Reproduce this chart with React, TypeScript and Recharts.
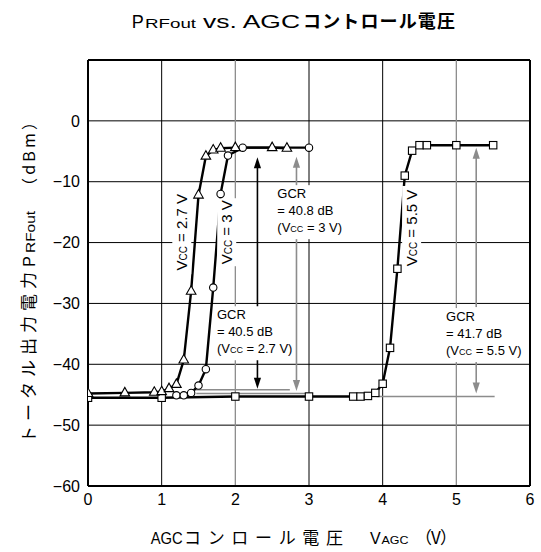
import { ComposedChart, Line, XAxis, YAxis, CartesianGrid, ReferenceLine, ReferenceDot } from "recharts";

// measured curves, VAGC (V) vs PRFout (dBm)
const vagc27 = [0, 0.5, 0.9, 1.0, 1.1, 1.2, 1.3, 1.4, 1.5, 1.6, 1.7, 1.8, 2.0, 2.5, 2.7];
const pout27 = [-44.8, -44.7, -44.6, -44.5, -44.0, -43.3, -39.3, -28.0, -12.2, -5.8, -4.8, -4.5, -4.4, -4.4, -4.5];
const vagc30 = [1.2, 1.3, 1.4, 1.5, 1.6, 1.7, 1.8, 1.9, 2.1, 3.0];
const pout30 = [-45.1, -45.1, -44.7, -43.5, -40.8, -27.4, -12.0, -5.7, -4.4, -4.4];
const vagc55 = [0, 1, 2, 3, 3.6, 3.7, 3.8, 3.9, 4.0, 4.1, 4.2, 4.3, 4.4, 4.5, 4.6, 5.0, 5.5];
const pout55 = [-45.5, -45.5, -45.3, -45.3, -45.3, -45.3, -45.2, -44.7, -43.2, -37.3, -24.3, -9.0, -4.9, -4.0, -4.0, -4.0, -4.0];

const xTicks = [0, 1, 2, 3, 4, 5, 6];
const yTicks = [-60, -50, -40, -30, -20, -10, 0];

// GCR arrows (tail -> tip), in data units
const arrowX = [2.3, 2.3, 2.83, 2.83, 5.27, 5.27];
const arrowFrom = [-33.4, -38.2, -10.9, -18.7, -30.6, -39.4];
const arrowTo = [-6.0, -44.0, -5.9, -44.4, -4.4, -44.8];
const arrowDark = [true, true, false, false, false, false];

// minimum-level lines
const levelY = [-44.2, -44.8, -45.3];
const levelFrom = [1.45, 1.47, 3.92];
const levelTo = [2.74, 3.0, 5.52];

// GCR notes
const noteX = [2.57, 1.75, 4.86];
const noteY = [-12.7, -32.6, -32.9];
const noteGcr = ["40.8", "40.5", "41.7"];
const noteVcc = ["3", "2.7", "5.5"];

// curve labels
const labelX = [1.28, 1.89, 4.4];
const labelY = [-18.3, -18.3, -17.6];
const labelVcc = ["2.7", "3", "5.5"];

const FONT = '"Liberation Sans", Arial, "Noto Sans CJK JP", sans-serif';
const JP = '"Noto Sans CJK JP", sans-serif';
const GRAY = "#8c8c8c";

const rows = (xs: number[], ys: number[]) => xs.map((v, i) => ({ v, p: ys[i] }));
const data27 = rows(vagc27, pout27);
const data30 = rows(vagc30, pout30);
const data55 = rows(vagc55, pout55);

const Tri = (props: any) => {
  const { cx, cy, index } = props;
  if (cx == null || cy == null) return <g key={`t${index}`} />;
  return (
    <polygon key={`t${index}`} points={`${cx},${cy - 5.5} ${cx - 4.8},${cy + 3} ${cx + 4.8},${cy + 3}`}
      fill="#fff" stroke="#000" strokeWidth={1.1} />
  );
};
const Circ = (props: any) => {
  const { cx, cy, index } = props;
  if (cx == null || cy == null) return <g key={`c${index}`} />;
  return <circle key={`c${index}`} cx={cx} cy={cy} r={3.7} fill="#fff" stroke="#000" strokeWidth={1.1} />;
};
const Sq = (props: any) => {
  const { cx, cy, index } = props;
  if (cx == null || cy == null) return <g key={`s${index}`} />;
  return <rect key={`s${index}`} x={cx - 3.7} y={cy - 3.7} width={7.4} height={7.4} fill="#fff" stroke="#000" strokeWidth={1.1} />;
};

const arrowShape = (color: string) => (props: any) => {
  const { x1, y1, x2, y2 } = props;
  const dir = y2 > y1 ? 1 : -1;
  return (
    <g>
      <line x1={x1} y1={y1} x2={x2} y2={y2 - dir * 6} stroke={color} strokeWidth={1.6} />
      <polygon points={`${x2},${y2} ${x2 - 3.6},${y2 - dir * 11} ${x2 + 3.6},${y2 - dir * 11}`} fill={color} />
    </g>
  );
};

const noteShape = (gcr: string, vcc: string) => (props: any) => {
  const { cx, cy } = props;
  const w = vcc.length > 1 ? 80 : 70;
  return (
    <g fontFamily={FONT} fontSize={13} fill="#000">
      <rect x={cx - 2} y={cy - 13} width={w} height={54} fill="#fff" />
      <text x={cx} y={cy}>GCR</text>
      <text x={cx} y={cy + 17}>= {gcr} dB</text>
      <text x={cx} y={cy + 34}>(V<tspan fontSize={9}>CC</tspan> = {vcc} V)</text>
    </g>
  );
};

const vccLabel = (vcc: string) => (props: any) => {
  const { cx, cy } = props;
  const w = vcc.length > 1 ? 84 : 68;
  return (
    <g transform={`rotate(-90, ${cx}, ${cy})`} fontFamily={FONT} fill="#000">
      <rect x={cx - w / 2} y={cy - 10} width={w} height={19} fill="#fff" />
      <text x={cx} y={cy + 5} textAnchor="middle" fontSize={15}>
        V<tspan fontSize={10}>CC</tspan> = {vcc} V
      </text>
    </g>
  );
};

const fmt = (v: number) => String(v).replace("-", "\u2212");
const SG = "spacingAndGlyphs";

export default function App() {
  return (
    <div style={{ position: "relative", width: 541, height: 552, background: "#fff" }}>
      <style>{"body{margin:0}"}</style>
      <ComposedChart width={541} height={552} margin={{ top: 60, right: 11, bottom: 36, left: 0 }}>
        <CartesianGrid stroke="#000" strokeWidth={1} verticalValues={[1, 3, 4]} horizontalValues={[-50, -40, -30, -20, -10, 0]} />
        <XAxis dataKey="v" type="number" domain={[0, 6]} ticks={xTicks} height={30}
          axisLine={{ stroke: "#000", strokeWidth: 2 }} tickLine={false}
          tick={{ fontSize: 16, fill: "#000", fontFamily: FONT }} allowDataOverflow />
        <YAxis type="number" domain={[-60, 10]} ticks={yTicks} width={88}
          axisLine={{ stroke: "#000", strokeWidth: 2 }} tickLine={false} tickFormatter={fmt}
          tick={{ fontSize: 16, fill: "#000", fontFamily: FONT }} allowDataOverflow />
        <ReferenceLine y={10} stroke="#000" strokeWidth={2} />
        <ReferenceLine x={6} stroke="#000" strokeWidth={2} />
        <ReferenceLine x={2} stroke={GRAY} strokeWidth={1.3} />
        <ReferenceLine x={5} stroke={GRAY} strokeWidth={1.3} />
        {levelY.map((y, i) => (
          <ReferenceLine key={`lv${i}`} segment={[{ x: levelFrom[i], y }, { x: levelTo[i], y }]}
            stroke={GRAY} strokeWidth={1.5} />
        ))}
        {arrowX.map((x, i) => (
          <ReferenceLine key={`ar${i}`} segment={[{ x, y: arrowFrom[i] }, { x, y: arrowTo[i] }]}
            shape={arrowShape(arrowDark[i] ? "#000" : GRAY)} />
        ))}
        {noteX.map((x, i) => (
          <ReferenceDot key={`nt${i}`} x={x} y={noteY[i]} r={0} shape={noteShape(noteGcr[i], noteVcc[i])} />
        ))}
        {labelX.map((x, i) => (
          <ReferenceDot key={`lb${i}`} x={x} y={labelY[i]} r={0} shape={vccLabel(labelVcc[i])} />
        ))}
        <Line data={data55} dataKey="p" type="linear" stroke="#000" strokeWidth={2.4} dot={Sq} isAnimationActive={false} />
        <Line data={data30} dataKey="p" type="linear" stroke="#000" strokeWidth={2.4} dot={Circ} isAnimationActive={false} />
        <Line data={data27} dataKey="p" type="linear" stroke="#000" strokeWidth={2.4} dot={Tri} isAnimationActive={false} />
      </ComposedChart>
      <svg width={541} height={552} style={{ position: "absolute", left: 0, top: 0, pointerEvents: "none" }}>
        <g fill="#000">
          <text x={131.7} y={28} fontSize={18} fontFamily={FONT} textLength={12} lengthAdjust={SG}>P</text>
          <text x={145} y={28} fontSize={13} fontFamily={FONT} textLength={51} lengthAdjust={SG}>RFout</text>
          <text x={203} y={28} fontSize={18} fontFamily={FONT} textLength={97} lengthAdjust={SG}>vs. AGC</text>
          <text x={303} y={28} fontSize={18} fontFamily={JP} fontWeight="bold" textLength={152}>コントロール電圧</text>

          <text x={150.7} y={544} fontSize={16} fontFamily={FONT} textLength={32} lengthAdjust={SG}>AGC</text>
          <text x={184} y={544} fontSize={17} fontFamily={JP} textLength={159}>コンロール電圧</text>
          <text x={370} y={544} fontSize={16} fontFamily={FONT}>V</text>
          <text x={381.5} y={544} fontSize={11} fontFamily={FONT} textLength={27} lengthAdjust={SG}>AGC</text>
          <text x={415} y={544} fontSize={17} fontFamily={JP} textLength={42}>（V）</text>

          <g transform="rotate(-90)">
            <text x={-443} y={35} fontSize={17} fontFamily={JP} textLength={171}>トータル出力電力</text>
            <text x={-266.7} y={35} fontSize={16} fontFamily={FONT}>P</text>
            <text x={-253} y={35} fontSize={12} fontFamily={FONT} textLength={42} lengthAdjust={SG}>RFout</text>
            <text x={-194} y={35} fontSize={16} fontFamily={JP} textLength={80}>（dBm）</text>
          </g>
        </g>
      </svg>
    </div>
  );
}
